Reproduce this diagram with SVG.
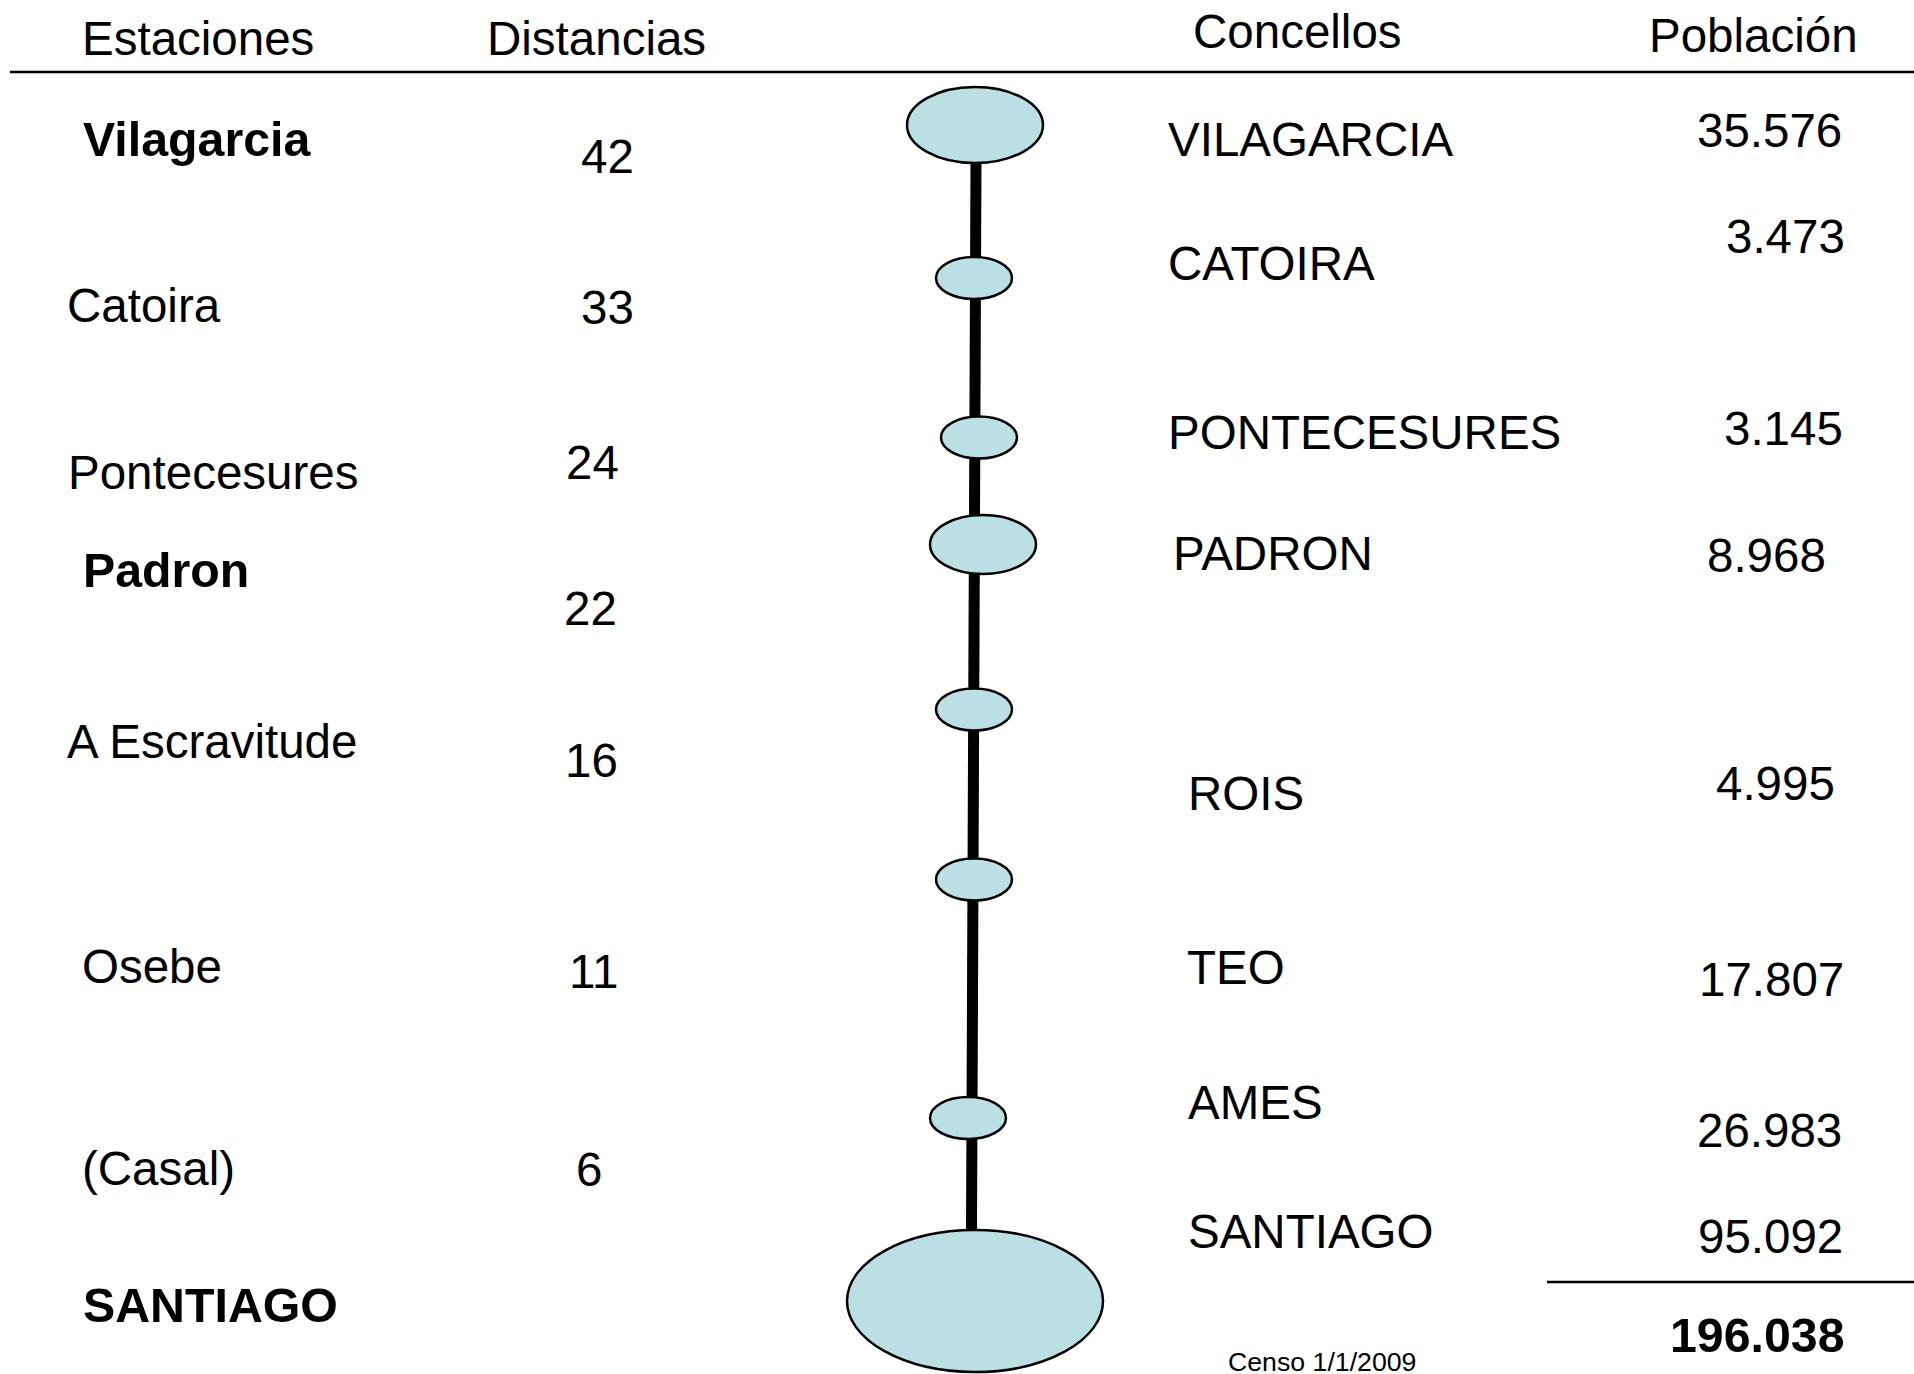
<svg xmlns="http://www.w3.org/2000/svg" width="1914" height="1374" viewBox="0 0 1914 1374">
<style>
text{font-family:"Liberation Sans",Arial,sans-serif;font-size:47.5px;fill:#000}
.b{font-weight:bold;font-size:48.3px}
.s{font-size:26.7px}
.st{fill:#BBE0E3;stroke:#000;stroke-width:2.5}
.rule{stroke:#000;stroke-width:2.5}
</style>
<rect width="1914" height="1374" fill="#fff"/>
<g id="headers">
<text x="82" y="55">Estaciones</text>
<text x="487" y="55">Distancias</text>
<text x="1193" y="48">Concellos</text>
<text x="1649" y="52">Población</text>
<line class="rule" x1="10" y1="72" x2="1914" y2="72"/>
</g>
<g id="connectors">
<line x1="976" y1="160" x2="971.5" y2="1232" stroke="#000" stroke-width="11"/>
</g>
<g id="node-vilagarcia">
<ellipse class="st" cx="975" cy="125" rx="68" ry="38"/>
<text class="b" x="83" y="156">Vilagarcia</text>
<text x="581" y="173">42</text>
<text x="1168" y="156">VILAGARCIA</text>
<text x="1697" y="147">35.576</text>
</g>
<g id="node-catoira">
<ellipse class="st" cx="974" cy="278" rx="38" ry="21"/>
<text x="67" y="322">Catoira</text>
<text x="581" y="324">33</text>
<text x="1168" y="280">CATOIRA</text>
<text x="1726" y="253">3.473</text>
</g>
<g id="node-pontecesures">
<ellipse class="st" cx="979" cy="437.5" rx="38" ry="21"/>
<text x="68" y="489">Pontecesures</text>
<text x="566" y="479">24</text>
<text x="1168" y="449">PONTECESURES</text>
<text x="1724" y="445">3.145</text>
</g>
<g id="node-padron">
<ellipse class="st" cx="983" cy="544.5" rx="53" ry="29.5"/>
<text class="b" x="83" y="587">Padron</text>
<text x="564" y="625">22</text>
<text x="1173" y="570">PADRON</text>
<text x="1707" y="572">8.968</text>
</g>
<g id="node-escravitude">
<ellipse class="st" cx="974" cy="709.5" rx="38" ry="21"/>
<text x="67" y="758">A Escravitude</text>
<text x="565" y="777">16</text>
<text x="1188" y="810">ROIS</text>
<text x="1716" y="800">4.995</text>
</g>
<g id="node-osebe">
<ellipse class="st" cx="974" cy="879.5" rx="38" ry="21"/>
<text x="82" y="983">Osebe</text>
<text x="569" y="988">11</text>
<text x="1187" y="984">TEO</text>
<text x="1699" y="996">17.807</text>
</g>
<g id="node-casal">
<ellipse class="st" cx="968" cy="1118" rx="38" ry="21"/>
<text x="82" y="1185">(Casal)</text>
<text x="576" y="1186">6</text>
<text x="1188" y="1119">AMES</text>
<text x="1697" y="1147">26.983</text>
</g>
<g id="node-santiago">
<ellipse class="st" cx="975" cy="1301" rx="128" ry="71"/>
<text class="b" x="83" y="1322">SANTIAGO</text>
<text x="1188" y="1248">SANTIAGO</text>
<text x="1698" y="1253">95.092</text>
</g>
<g id="total">
<line class="rule" x1="1547" y1="1282" x2="1914" y2="1282"/>
<text class="b" x="1670" y="1352">196.038</text>
<text class="s" x="1228" y="1371">Censo 1/1/2009</text>
</g>
</svg>
